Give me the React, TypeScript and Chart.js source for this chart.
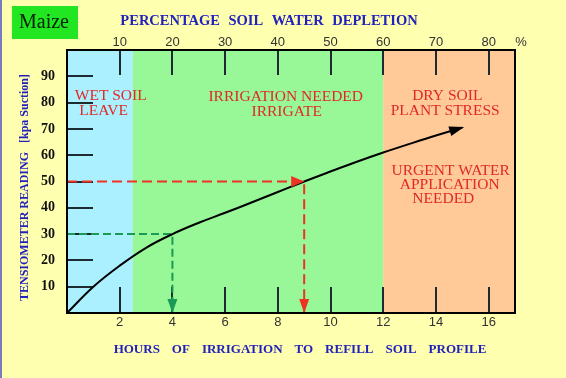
import React, { useEffect, useRef } from "react";
import { Chart, registerables } from "chart.js";

Chart.register(...registerables);

// ---- data ----
const hours = [0, 1, 2, 3, 4, 5, 6, 7, 8, 9, 10, 11, 12, 13, 14, 15];
const kpa = [0, 10, 18, 24.8, 30, 34.3, 38.1, 42, 46, 50, 53.8, 57.5, 61, 64.3, 67.5, 70.5];
const hourTicks = [2, 4, 6, 8, 10, 12, 14, 16];
const depletionTicks = [10, 20, 30, 40, 50, 60, 70, 80];
const kpaTicks = [10, 20, 30, 40, 50, 60, 70, 80, 90];
const zoneEdges = [0, 2.5, 12, 17];
const greenGuideHours = [0, 4, 4];
const greenGuideKpa = [30, 30, 0];
const redGuideHours = [0, 9, 9];
const redGuideKpa = [50, 50, 0];
const wetLabel = ["WET SOIL", "LEAVE"];
const irrigateLabel = ["IRRIGATION NEEDED", "IRRIGATE"];
const dryLabel = ["DRY SOIL", "PLANT STRESS"];
const urgentLabel = ["URGENT WATER", "APPLICATION", "NEEDED"];
const chartLabel = "Maize";
const topTitle = "PERCENTAGE SOIL WATER DEPLETION";
const bottomTitle = "HOURS OF IRRIGATION TO REFILL SOIL PROFILE";
const leftTitle = "TENSIOMETER READING   [kpa Suction]";
const percentSign = "%";

// ---- styles ----
const PAGE = "#ffffb0";
const ZONE_COLORS = ["#aaf0ff", "#98f898", "#ffca98"];
const RED = "#ee3322";
const GREEN = "#1a9a55";
const LABEL_RED = "#e02828";
const BLUE = "#2222bb";

const toXY = (xs: number[], ys: number[]) => xs.map((x, i) => ({ x, y: ys[i] }));

function head(ctx: CanvasRenderingContext2D, tx: number, ty: number, ang: number, len: number, half: number, color: string) {
  ctx.save();
  ctx.translate(tx, ty);
  ctx.rotate(ang);
  ctx.beginPath();
  ctx.moveTo(0, 0);
  ctx.lineTo(-len, -half);
  ctx.lineTo(-len, half);
  ctx.closePath();
  ctx.fillStyle = color;
  ctx.fill();
  ctx.restore();
}

function spaced(ctx: CanvasRenderingContext2D, text: string, cx: number, cy: number, gap: number) {
  const words = text.split(" ");
  const widths = words.map((w) => ctx.measureText(w).width);
  const total = widths.reduce((a, b) => a + b, 0) + gap * (words.length - 1);
  let x = cx - total / 2;
  ctx.textAlign = "left";
  ctx.textBaseline = "middle";
  words.forEach((w, i) => {
    ctx.fillText(w, x, cy);
    x += widths[i] + gap;
  });
}

const decor = {
  id: "decor",
  beforeDraw(chart: any) {
    const { ctx, chartArea: a, scales } = chart;
    const x = scales.x;
    ctx.save();
    ctx.fillStyle = PAGE;
    ctx.fillRect(0, 0, chart.width, chart.height);
    ctx.fillStyle = "#7b7bc0";
    ctx.fillRect(0, 0, 2, chart.height);
    ZONE_COLORS.forEach((c, i) => {
      const x0 = x.getPixelForValue(zoneEdges[i]);
      const x1 = x.getPixelForValue(zoneEdges[i + 1]);
      ctx.fillStyle = c;
      ctx.fillRect(x0, a.top, x1 - x0, a.bottom - a.top);
    });
    ctx.restore();
  },
  afterDatasetsDraw(chart: any) {
    const { ctx, scales } = chart;
    const x = scales.x;
    const y = scales.y;
    // guide arrowheads
    head(ctx, x.getPixelForValue(9), y.getPixelForValue(50), 0, 13, 5.5, RED);
    head(ctx, x.getPixelForValue(9), y.getPixelForValue(0), Math.PI / 2, 14, 5, RED);
    head(ctx, x.getPixelForValue(4), y.getPixelForValue(0), Math.PI / 2, 14, 5, GREEN);
    // curve arrowhead
    const pts = chart.getDatasetMeta(0).data;
    const p1 = pts[pts.length - 1];
    const p0 = pts[pts.length - 2];
    const ang = Math.atan2(p1.y - p0.y, p1.x - p0.x);
    head(ctx, p1.x + 2 * Math.cos(ang), p1.y + 2 * Math.sin(ang), ang, 15, 5, "#000");

    // zone labels
    ctx.save();
    ctx.fillStyle = LABEL_RED;
    ctx.font = "15.5px 'Liberation Serif'";
    ctx.textAlign = "center";
    ctx.textBaseline = "middle";
    const place = (lines: string[], xs: number[], y0: number, step: number) => {
      const py = y.getPixelForValue(y0);
      lines.forEach((t, i) => ctx.fillText(t, x.getPixelForValue(xs[i]), py + i * step));
    };
    place(wetLabel, [1.66, 1.39], 82.4, 15);
    place(irrigateLabel, [8.3, 8.34], 82.3, 15);
    place(dryLabel, [14.43, 14.35], 82.4, 15);
    place(urgentLabel, [14.56, 14.52, 14.28], 54.2, 14.2);
    ctx.restore();
  },
  afterDraw(chart: any) {
    const { ctx, chartArea: a } = chart;
    ctx.save();
    // frame
    ctx.strokeStyle = "#000";
    ctx.lineWidth = 2;
    ctx.strokeRect(a.left, a.top, a.right - a.left, a.bottom - a.top);
    // Maize box
    ctx.fillStyle = "#22e622";
    ctx.fillRect(12, 6, 66, 33);
    ctx.fillStyle = "#002200";
    ctx.font = "20px 'Liberation Serif'";
    ctx.textAlign = "center";
    ctx.textBaseline = "middle";
    ctx.fillText(chartLabel, 44, 23);
    // titles
    ctx.fillStyle = BLUE;
    ctx.font = "bold 14.5px 'Liberation Serif'";
    spaced(ctx, topTitle, 269, 21, 8.5);
    ctx.font = "bold 13px 'Liberation Serif'";
    spaced(ctx, bottomTitle, 300, 350, 12);
    // percent sign
    ctx.fillStyle = "#333";
    ctx.font = "13px 'Liberation Sans'";
    ctx.textAlign = "center";
    ctx.textBaseline = "middle";
    ctx.fillText(percentSign, 521, 42);
    ctx.restore();
  },
};

export default function App() {
  const ref = useRef<HTMLCanvasElement>(null);
  useEffect(() => {
    const gridOpts = (len: number) => ({
      drawOnChartArea: false,
      drawTicks: true,
      tickLength: len,
      color: "#1e2a30",
      lineWidth: 2,
    });
    const chart = new Chart(ref.current as HTMLCanvasElement, {
      type: "line",
      data: {
        datasets: [
          {
            data: toXY(hours, kpa),
            borderColor: "#000",
            borderWidth: 2,
            pointRadius: 0,
            tension: 0.4,
            fill: false,
          },
          {
            data: toXY(redGuideHours, redGuideKpa),
            borderColor: RED,
            borderWidth: 2,
            borderDash: [10, 5],
            pointRadius: 0,
            tension: 0,
            fill: false,
          },
          {
            data: toXY(greenGuideHours, greenGuideKpa),
            borderColor: GREEN,
            borderWidth: 2,
            borderDash: [8, 4],
            pointRadius: 0,
            tension: 0,
            fill: false,
          },
        ],
      },
      options: {
        responsive: false,
        animation: false,
        devicePixelRatio: 1,
        layout: { padding: { left: 0, top: 0, right: 51, bottom: 0 } },
        plugins: { legend: { display: false }, tooltip: { enabled: false } },
        scales: {
          x: {
            type: "linear",
            position: "bottom",
            min: 0,
            max: 17,
            afterBuildTicks: (s: any) => {
              s.ticks = hourTicks.map((v) => ({ value: v }));
            },
            afterFit: (s: any) => {
              s.height = 65;
            },
            grid: gridOpts(-26),
            border: { display: false },
            ticks: {
              padding: 28,
              autoSkip: false,
              maxRotation: 0,
              color: "#333",
              font: { family: "'Liberation Sans'", size: 13 },
            },
          },
          x2: {
            type: "linear",
            axis: "x",
            position: "top",
            min: 0,
            max: 85,
            afterBuildTicks: (s: any) => {
              s.ticks = depletionTicks.map((v) => ({ value: v }));
            },
            afterFit: (s: any) => {
              s.height = 50;
            },
            grid: gridOpts(-25),
            border: { display: false },
            ticks: {
              padding: 25,
              autoSkip: false,
              maxRotation: 0,
              color: "#333",
              font: { family: "'Liberation Sans'", size: 13 },
            },
          },
          y: {
            type: "linear",
            position: "left",
            min: 0,
            max: 100,
            afterBuildTicks: (s: any) => {
              s.ticks = kpaTicks.map((v) => ({ value: v }));
            },
            afterFit: (s: any) => {
              s.width = 67;
            },
            grid: gridOpts(-26),
            border: { display: false },
            ticks: {
              padding: 38,
              autoSkip: false,
              color: "#111",
              font: { family: "'Liberation Serif'", size: 14, weight: "bold" },
            },
            title: {
              display: true,
              text: leftTitle + "    ",
              color: BLUE,
              font: { family: "'Liberation Serif'", size: 12, weight: "bold" },
              padding: { top: 18, bottom: 0 },
            },
          },
        },
      },
      plugins: [decor],
    } as any);
    return () => chart.destroy();
  }, []);
  return (
    <div style={{ position: "fixed", left: 0, top: 0, width: 566, height: 378 }}>
      <canvas ref={ref} width={566} height={378} style={{ display: "block", width: 566, height: 378 }} />
    </div>
  );
}
